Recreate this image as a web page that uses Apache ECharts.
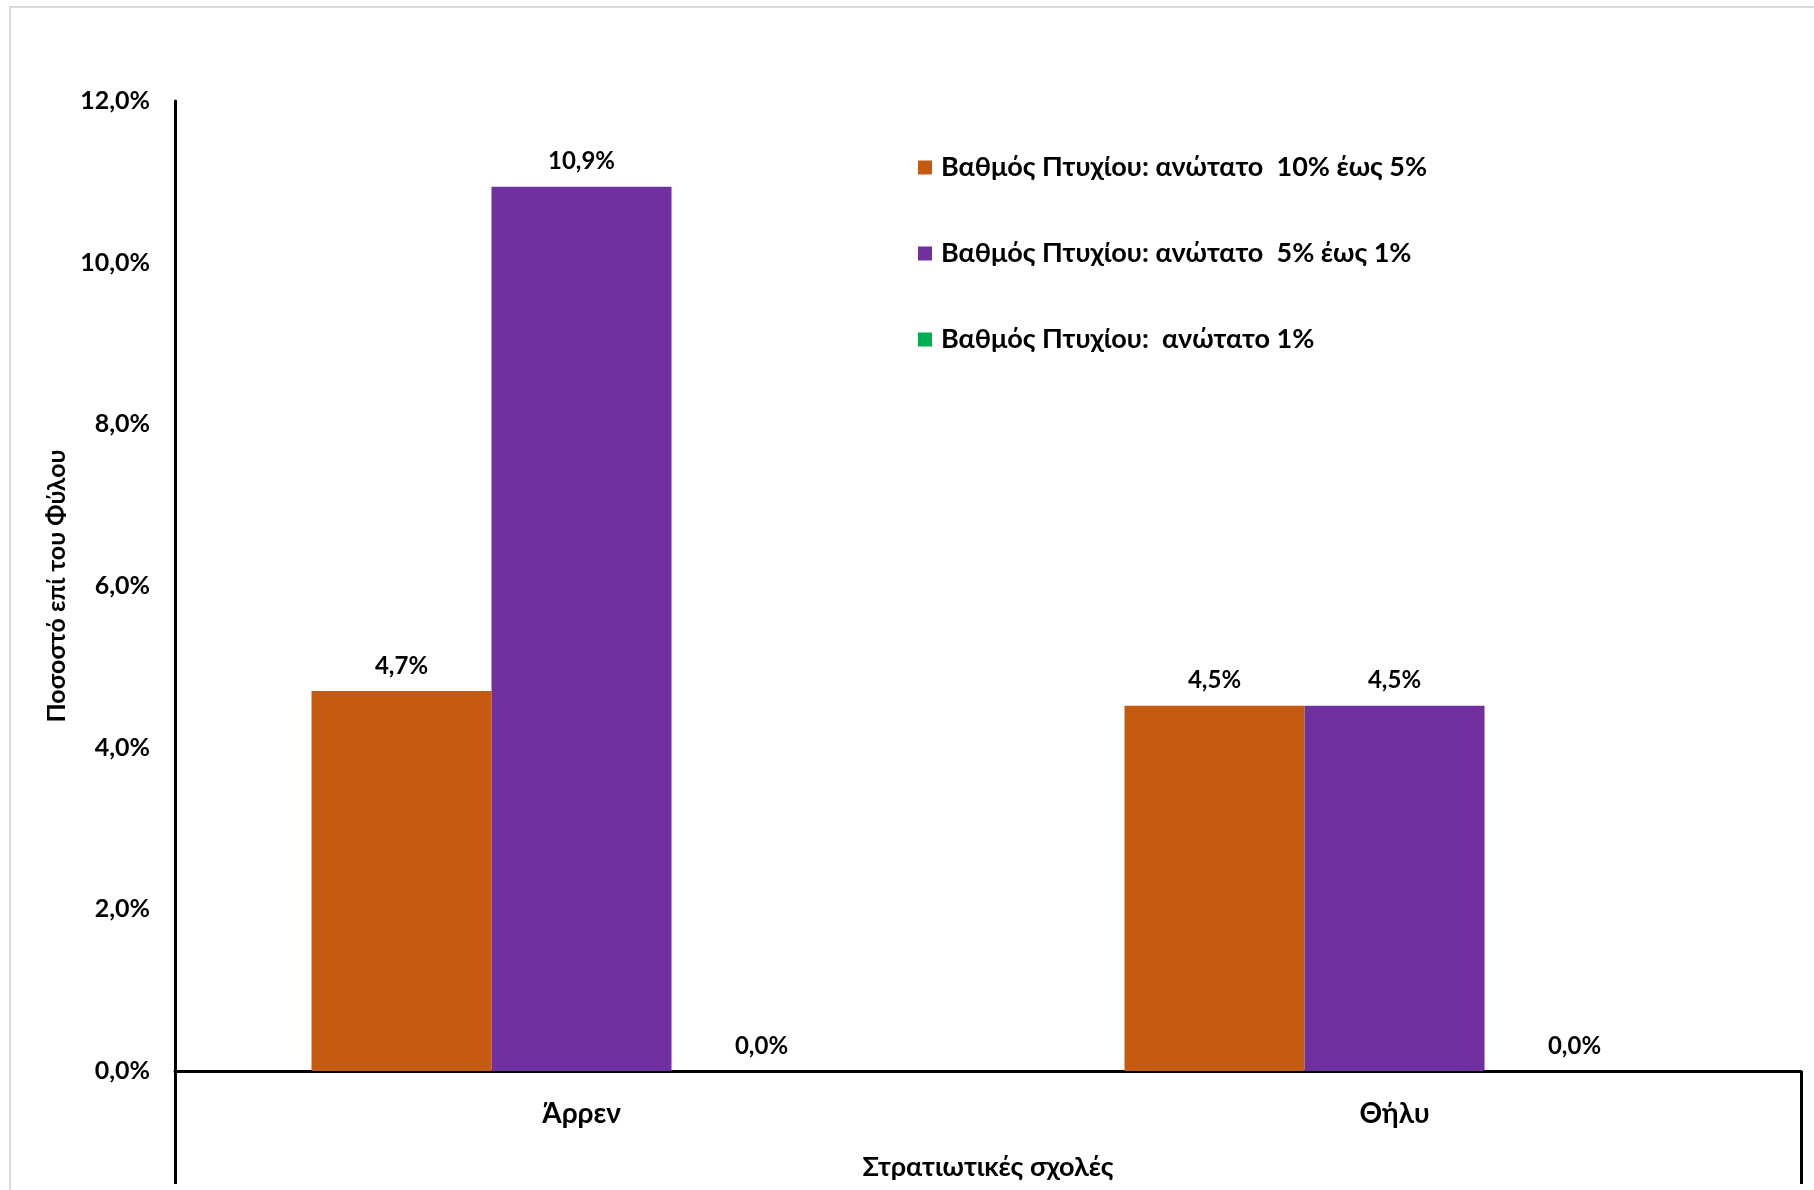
<!DOCTYPE html>
<html>
<head>
<meta charset="utf-8">
<script src="https://cdn.jsdelivr.net/npm/echarts@6/dist/echarts.min.js"></script>
<style>
html,body{margin:0;padding:0;background:#fff;}
#c{width:1814px;height:1190px;}
</style>
</head>
<body>
<div id="c"></div>
<script>
const categories = ['Άρρεν', 'Θήλυ'];
const seriesNames = [
  'Βαθμός Πτυχίου: ανώτατο  10% έως 5%',
  'Βαθμός Πτυχίου: ανώτατο  5% έως 1%',
  'Βαθμός Πτυχίου:  ανώτατο 1%'
];
const top10to5 = [4.7, 4.52];
const top5to1 = [10.94, 4.52];
const top1 = [0.0, 0.0];
const yTicks = [0, 2, 4, 6, 8, 10, 12];
const colors = ['#C55A11', '#7030A0', '#00B050'];

const FONT = 'Lato, "Open Sans", sans-serif';
const fmt = v => Number(v).toFixed(1).replace('.', ',') + '%';

const chart = echarts.init(document.getElementById('c'), null, {renderer: 'canvas'});
const values = [top10to5, top5to1, top1];
chart.setOption({
  animation: false,
  backgroundColor: '#fff',
  graphic: [{
    type: 'rect', shape: {x: 10, y: 7, width: 1830, height: 1220},
    style: {fill: 'none', stroke: '#d9d9d9', lineWidth: 2}, silent: true, z: -1
  }],
  grid: {left: 175, top: 101, right: 13, bottom: 119, containLabel: false},
  legend: {
    orient: 'vertical', left: 913, top: 149,
    itemWidth: 14, itemHeight: 14, itemGap: 59,
    icon: 'rect',
    textStyle: {fontFamily: FONT, fontWeight: 'bold', fontSize: 27, color: '#000', padding: [0,0,0,4]},
    data: seriesNames
  },
  xAxis: {
    type: 'category', data: categories,
    name: 'Στρατιωτικές σχολές', nameLocation: 'middle', nameGap: 83,
    nameTextStyle: {fontFamily: FONT, fontWeight: 'bold', fontSize: 27, color: '#000'},
    axisLine: {show: true, lineStyle: {color: '#000', width: 3}},
    axisTick: {show: true, length: 113, interval: function(i){ return i === 0; }, lineStyle: {color: '#000', width: 3}},
    axisLabel: {fontFamily: FONT, fontWeight: 'bold', fontSize: 28, color: '#000', margin: 29}
  },
  yAxis: {
    type: 'value', min: 0, max: 12, interval: 2,
    name: 'Ποσοστό επί του Φύλου', nameLocation: 'middle', nameGap: 106,
    nameTextStyle: {fontFamily: FONT, fontWeight: 'bold', fontSize: 25, color: '#000'},
    axisLine: {show: true, lineStyle: {color: '#000', width: 3}},
    axisTick: {show: false},
    splitLine: {show: false},
    axisLabel: {fontFamily: FONT, fontWeight: 'bold', fontSize: 25, color: '#000', margin: 25,
      formatter: v => yTicks.includes(v) ? fmt(v) : ''}
  },
  series: seriesNames.map((n, i) => ({
    name: n, type: 'bar', data: values[i], barWidth: 180, barGap: '0%',
    itemStyle: {color: colors[i]},
    label: {show: true, position: 'top', distance: 13, formatter: p => fmt(p.value),
      fontFamily: FONT, fontWeight: 'bold', fontSize: 24, color: '#000'}
  }))
});
</script>
</body>
</html>
